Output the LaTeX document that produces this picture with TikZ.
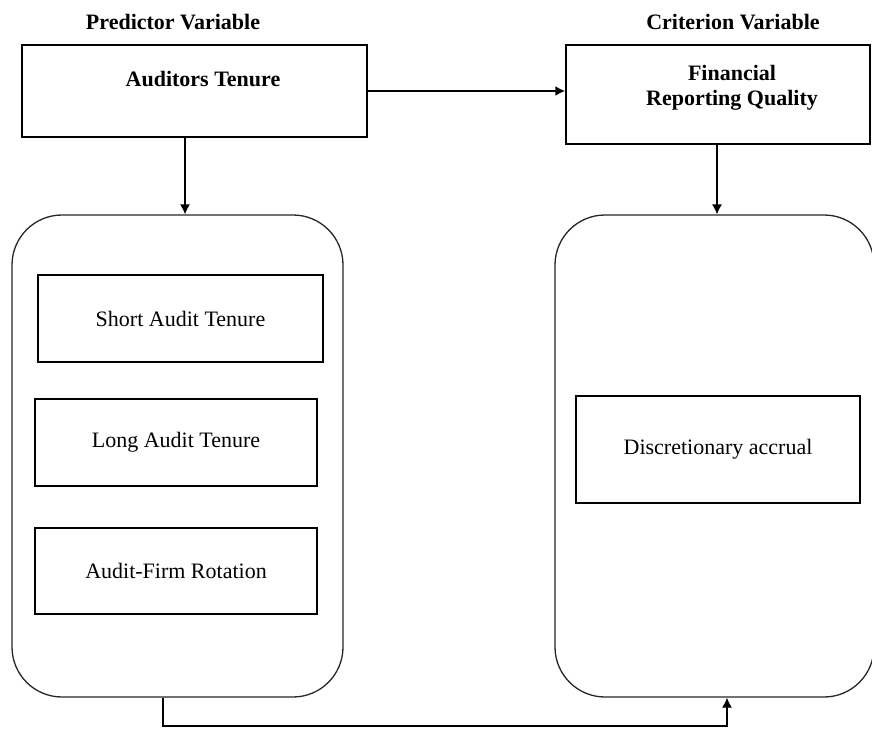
\documentclass[tikz,border=0pt]{standalone}
\usepackage{fontspec}
\setmainfont{Liberation Serif}
\usetikzlibrary{arrows.meta}
\begin{document}
\begin{tikzpicture}[x=1pt,y=-1pt,
  txt/.style={font=\fontsize{22}{25}\selectfont, align=center, inner sep=0pt},
  hdr/.style={txt, font=\fontsize{22}{25}\selectfont\bfseries},
  box/.style={draw, line width=1.3pt, inner sep=0pt, txt},
  rbox/.style={draw=black!85, line width=1.3pt, rounded corners=50pt, inner sep=0pt},
  arr/.style={line width=1.3pt, -{Latex[length=10pt,width=10pt]}}
]
\useasboundingbox (0,0) rectangle (872,728);

% headers
\node[hdr] (ph) at (173,22) {Predictor Variable};
\node[hdr] (ch) at (733,22) {Criterion Variable};

% top boxes
\node[box, minimum width=345pt, minimum height=92pt] (at) at (194.5,91) {};
\node[hdr] (att) at (203,79) {Auditors Tenure};
\node[box, minimum width=304pt, minimum height=99pt] (frq) at (718,94.5) {};
\node[hdr] (frqt) at (732,88) {Financial\\Reporting Quality};

% rounded containers
\node[rbox, minimum width=331pt, minimum height=482pt] (lr) at (177.5,456) {};
\node[rbox, minimum width=319pt, minimum height=482pt] (rr) at (714.5,456) {};

% inner boxes
\node[box, minimum width=285pt, minimum height=87pt] (sat) at (180.5,318.5) {Short Audit Tenure};
\node[box, minimum width=282pt, minimum height=87pt] (lat) at (176,442.5) {Long Audit Tenure};
\node[box, minimum width=282pt, minimum height=86pt] (afr) at (176,571) {Audit-Firm Rotation};
\node[box, minimum width=284pt, minimum height=107pt] (da) at (718,449.5) {Discretionary accrual};

% connectors
\draw[arr, line width=2pt] (at.east) -- (at.east -| frq.west);
\draw[arr] ([xshift=-9.5pt]at.south) -- ([xshift=-9.5pt]at.south |- lr.north);
\draw[arr] ([xshift=-1pt]frq.south) -- ([xshift=-1pt]frq.south |- rr.north);
\coordinate (b1) at (163,726);
\coordinate (b2) at (727,726);
\draw[arr] (lr.south -| b1) -- (b1) -- (b2) -- (rr.south -| b2);
\end{tikzpicture}
\end{document}
